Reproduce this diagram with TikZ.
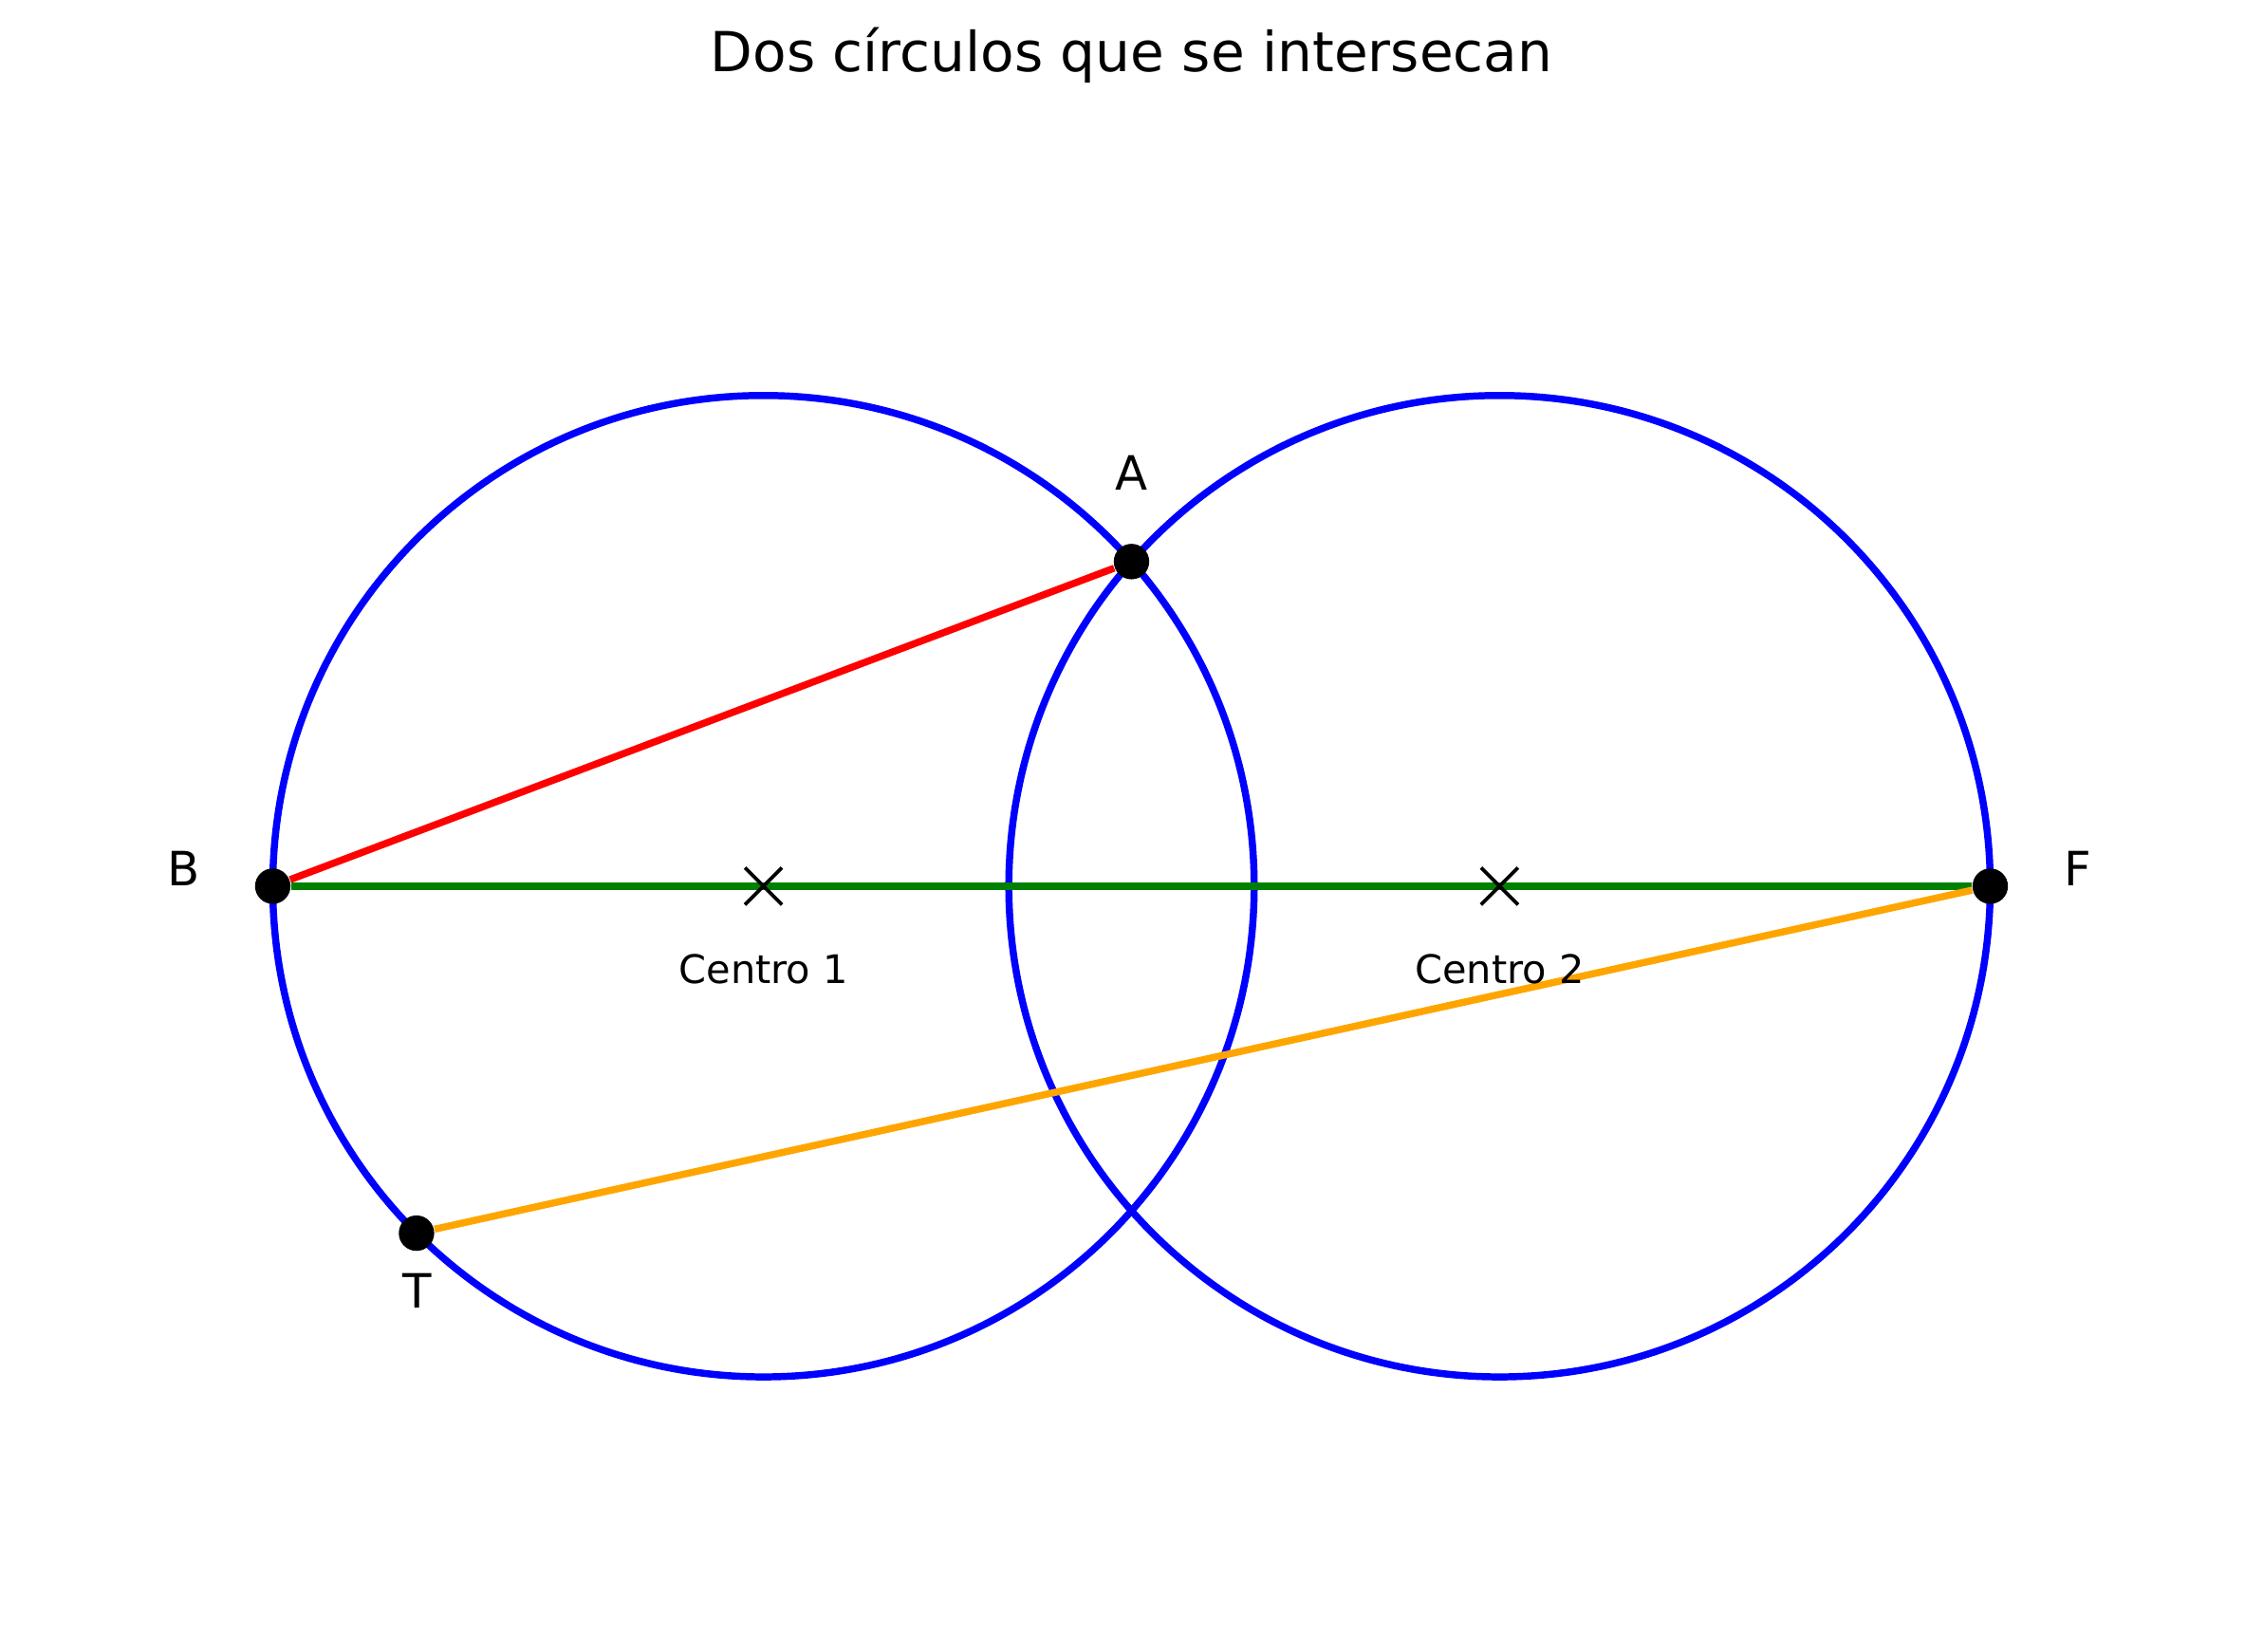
\documentclass[tikz,border=0pt]{standalone}
\usepackage{fontspec}
\setmainfont{DejaVu Sans}
\usetikzlibrary{shapes.misc}
\definecolor{mplgreen}{HTML}{008000}
\definecolor{mplorange}{HTML}{FFA500}
\begin{document}
\begin{tikzpicture}[x=2.1893cm,y=2.1893cm,font=\fontsize{12}{14}\selectfont,
 circ/.style={draw=blue,line width=1.8pt},
 seg/.style={line width=1.8pt},
 pt/.style={circle,fill=black,inner sep=0pt,minimum size=9pt},
 ctr/.style={cross out,draw=black,line width=0.9pt,inner sep=0pt,minimum size=8.5pt},
 lab/.style={inner sep=0pt}]
\useasboundingbox (-3.1118,-3.1176) rectangle (6.1118,3.6118);
\node[lab,anchor=base,font=\fontsize{14}{17}\selectfont] (title) at (1.5,3.318) {Dos círculos que se intersecan};
% the two circles
\coordinate (c1) at (0,0);
\coordinate (c2) at (3,0);
\draw[circ] (c1) circle[radius=2];
\draw[circ] (c2) circle[radius=2];
% points
\node[pt] (A) at (1.5,1.3229) {};
\node[pt] (B) at (-2,0) {};
\node[pt] (F) at (5,0) {};
\node[pt] (T) at (225:2) {};
\draw[seg,red] (B) -- (A);
\draw[seg,mplgreen,line width=2pt] (B) -- (F);
\draw[seg,mplorange] (T) -- (F);
% centres
\node[ctr] (x1) at (c1) {};
\node[ctr] (x2) at (c2) {};
\node[lab,font=\fontsize{10}{12}\selectfont] (l1) at (0,-0.34) {Centro 1};
\node[lab,font=\fontsize{10}{12}\selectfont] (l2) at (3,-0.34) {Centro 2};
% labels
\node[lab] (lA) at (1.5,1.684) {A};
\node[lab] (lB) at (-2.365,0.07) {B};
\node[lab] (lF) at (5.358,0.07) {F};
\node[lab] (lT) at (-1.41,-1.648) {T};
\end{tikzpicture}
\end{document}
